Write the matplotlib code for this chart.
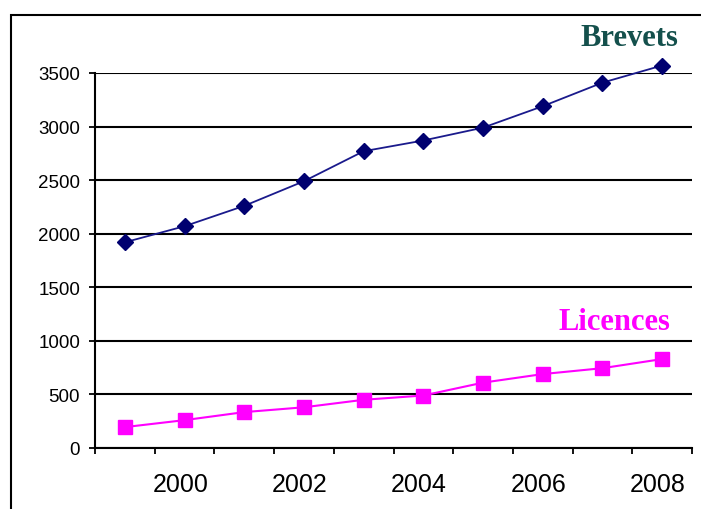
import matplotlib
matplotlib.use("Agg")
import matplotlib.pyplot as plt
from matplotlib.patches import Rectangle

# Yearly counts
years = [1999, 2000, 2001, 2002, 2003, 2004, 2005, 2006, 2007, 2008]
brevets = [1920, 2070, 2260, 2490, 2770, 2870, 2990, 3190, 3410, 3570]
licences = [195, 260, 335, 380, 450, 490, 610, 690, 745, 830]
y_ticks = [0, 500, 1000, 1500, 2000, 2500, 3000, 3500]
x_labels = ["2000", "2002", "2004", "2006", "2008"]

W, H = 701, 510
fig = plt.figure(figsize=(W / 100, H / 100), dpi=100)
fig.patch.set_facecolor("white")

# Outer frame (left and top edges visible)
fig.patches.append(Rectangle((11 / W, -0.1), 1.2, (H - 16) / H + 0.1,
                             transform=fig.transFigure, fill=False,
                             edgecolor="black", linewidth=1.5))

ax = fig.add_axes([95 / W, 61 / H, 597 / W, 375 / H])
idx = list(range(len(years)))

ax.plot(idx, brevets, color="#1a1a8c", linewidth=1.3, marker="D",
        markersize=8.2, markerfacecolor="#000070", markeredgecolor="#000070",
        clip_on=False, zorder=3)
ax.plot(idx, licences, color="#ff00ff", linewidth=1.5, marker="s",
        markersize=9.8, markerfacecolor="#ff00ff", markeredgecolor="#ff00ff",
        clip_on=False, zorder=3)

ax.set_xlim(-0.5, len(years) - 0.5)
ax.set_ylim(0, 3500)

ax.set_yticks(y_ticks)
ax.set_yticklabels([str(v) for v in y_ticks], fontsize=13.5,
                   family="Liberation Sans")
ax.yaxis.grid(True, color="black", linewidth=1.5)
ax.set_axisbelow(True)

# Tick marks between categories, labels on every other year
ax.set_xticks([i - 0.5 for i in range(len(years) + 1)])
ax.set_xticklabels([])
label_pos = [years.index(int(s)) - 0.07 for s in x_labels]
ax.set_xticks(label_pos, minor=True)
ax.set_xticklabels(x_labels, minor=True, fontsize=18, family="Liberation Sans")
ax.tick_params(axis="x", which="minor", length=0, pad=17)
ax.tick_params(axis="x", which="major", length=4.3, width=1.3, direction="out")
ax.tick_params(axis="y", length=4.3, width=1.3, direction="out", pad=6.5)

for s in ["top", "right"]:
    ax.spines[s].set_visible(False)
for s in ["left", "bottom"]:
    ax.spines[s].set_linewidth(1.5)
    ax.spines[s].set_color("black")

fig.text(678 / W, 1 - 38 / H, "Brevets", ha="right", va="center",
         fontsize=22, fontweight="bold", family="Liberation Serif",
         color="#14504c")
fig.text(670 / W, 1 - 323 / H, "Licences", ha="right", va="center",
         fontsize=22, fontweight="bold", family="Liberation Serif",
         color="#ff00ff")

fig.savefig("out.png", dpi=100)
